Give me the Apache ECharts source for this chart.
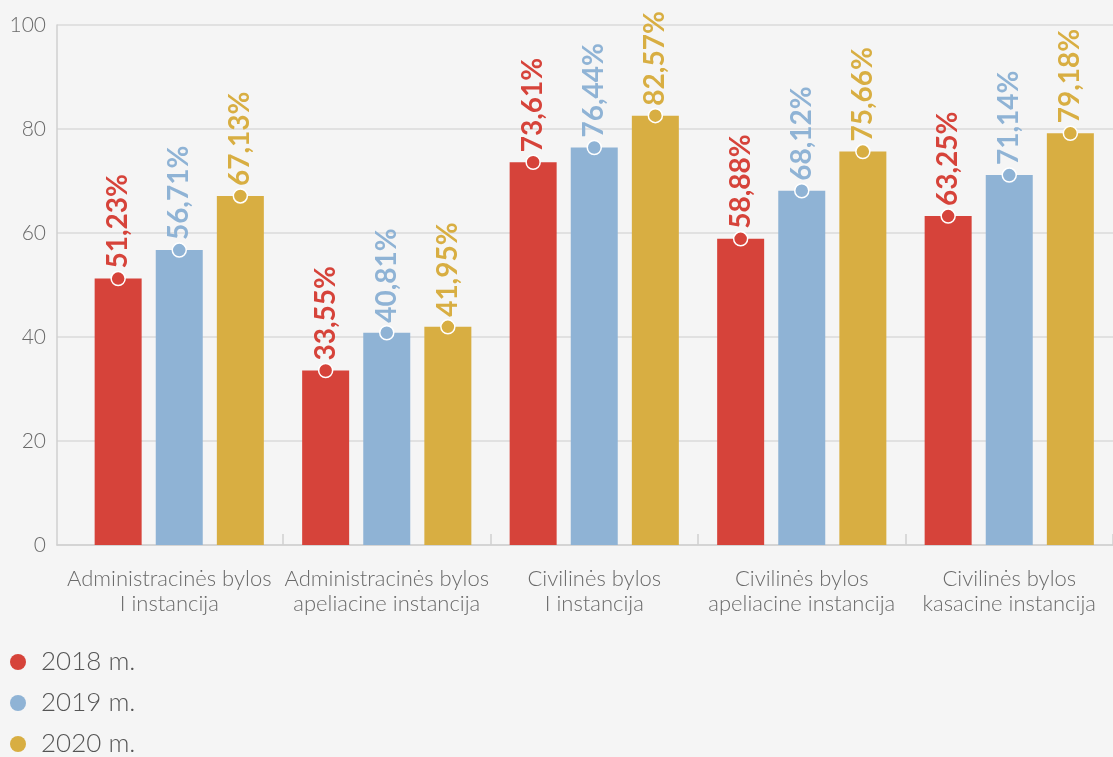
<!DOCTYPE html>
<html>
<head>
<meta charset="utf-8">
<script src="https://cdn.jsdelivr.net/npm/echarts@6/dist/echarts.min.js"></script>
<style>
html,body{margin:0;padding:0;background:#f5f5f5;}
#chart{width:1113px;height:757px;}
</style>
</head>
<body>
<div id="chart"></div>
<script>
const categories = [
  'Administracinės bylos\nI instancija',
  'Administracinės bylos\napeliacine instancija',
  'Civilinės bylos\nI instancija',
  'Civilinės bylos\napeliacine instancija',
  'Civilinės bylos\nkasacine instancija'
];
const seriesNames = ['2018 m.', '2019 m.', '2020 m.'];
const values2018 = [51.23, 33.55, 73.61, 58.88, 63.25];
const values2019 = [56.71, 40.81, 76.44, 68.12, 71.14];
const values2020 = [67.13, 41.95, 82.57, 75.66, 79.18];
const yTicks = [0, 20, 40, 60, 80, 100];

const colors = ['#d6433a', '#8fb3d5', '#d8ae42'];
const allValues = [values2018, values2019, values2020];
const FONT = 'Lato, "Open Sans", sans-serif';
const BAR_W = 47;
const BAR_GAP = 14.1;

const chart = echarts.init(document.getElementById('chart'));

const series = [];
allValues.forEach((vals, i) => {
  series.push({
    name: seriesNames[i],
    type: 'bar',
    xAxisIndex: 1,
    yAxisIndex: 1,
    data: vals,
    barWidth: BAR_W,
    barGap: (BAR_GAP / BAR_W * 100) + '%',
    itemStyle: { color: colors[i] },
    label: {
      show: true,
      position: 'top',
      distance: 10,
      rotate: 90,
      align: 'left',
      verticalAlign: 'middle',
      color: colors[i],
      fontFamily: FONT,
      fontWeight: 'bold',
      fontSize: 28,
      formatter: p => p.value.toFixed(2).replace('.', ',') + '%'
    },
    emphasis: { disabled: true },
    z: 2
  });
});
allValues.forEach((vals, i) => {
  series.push({
    name: seriesNames[i],
    type: 'scatter',
    xAxisIndex: 1,
    yAxisIndex: 1,
    data: vals,
    symbol: 'circle',
    symbolSize: 14,
    symbolOffset: [(i - 1) * (BAR_W + BAR_GAP), 0],
    itemStyle: { color: colors[i], borderColor: '#ffffff', borderWidth: 1.5, opacity: 1 },
    emphasis: { disabled: true },
    silent: true,
    z: 10
  });
});

chart.setOption({
  backgroundColor: '#f5f5f5',
  animation: false,
  color: colors,
  grid: [
    { left: 57, right: 0, top: 25, bottom: 212 },
    { left: 75.5, right: -3, top: 25, bottom: 212 }
  ],
  legend: {
    orient: 'vertical',
    left: 10,
    top: 649,
    bottom: -120,
    padding: 0,
    data: seriesNames,
    icon: 'circle',
    itemWidth: 16,
    itemHeight: 16,
    itemGap: 15,
    textStyle: {
      fontFamily: FONT,
      fontWeight: 300,
      fontSize: 26,
      color: '#555555',
      padding: [0, 0, 0, 10]
    }
  },
  xAxis: [
    {
      gridIndex: 0,
      type: 'category',
      data: categories,
      axisLine: { show: true, lineStyle: { color: '#cfcfcf', width: 1.5 } },
      axisTick: { show: false },
      axisLabel: { show: false }
    },
    {
      gridIndex: 1,
      type: 'category',
      data: categories,
      axisLine: { show: false },
      axisTick: {
        show: true,
        inside: true,
        length: 11,
        interval: (idx) => idx > 0,
        lineStyle: { color: '#cfcfcf', width: 1.5 }
      },
      axisLabel: {
        interval: 0,
        margin: 21,
        fontFamily: FONT,
        fontWeight: 300,
        fontSize: 22,
        lineHeight: 25,
        color: '#6a6a6a',
        align: 'center',
        formatter: (v, idx) => idx === 0
          ? v.split('\n').map(s => '{a|' + s + '}').join('\n')
          : v,
        rich: {
          a: {
            fontFamily: FONT,
            fontWeight: 300,
            fontSize: 22,
            lineHeight: 25,
            color: '#6a6a6a',
            padding: [0, 20, 0, 0]
          }
        }
      }
    }
  ],
  yAxis: [
    {
      gridIndex: 0,
      type: 'value',
      min: yTicks[0],
      max: yTicks[yTicks.length - 1],
      interval: 20,
      axisLine: { show: true, lineStyle: { color: '#cfcfcf', width: 1.5 } },
      axisTick: { show: false },
      splitLine: { show: true, lineStyle: { color: '#dadada', width: 1.5 } },
      axisLabel: {
        margin: 11,
        fontFamily: FONT,
        fontWeight: 300,
        fontSize: 21,
        color: '#6a6a6a'
      }
    },
    {
      gridIndex: 1,
      type: 'value',
      min: yTicks[0],
      max: yTicks[yTicks.length - 1],
      interval: 20,
      show: false,
      splitLine: { show: false }
    }
  ],
  series: series
});
</script>
</body>
</html>
